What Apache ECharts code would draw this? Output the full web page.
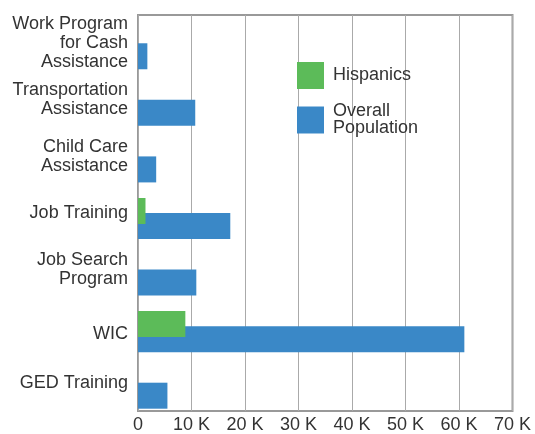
<!DOCTYPE html>
<html>
<head>
<meta charset="utf-8">
<script src="https://cdn.jsdelivr.net/npm/echarts@6/dist/echarts.min.js"></script>
<style>
  html, body { margin: 0; padding: 0; background: #fff; }
  #chart { width: 535px; height: 434px; }
</style>
</head>
<body>
<div id="chart"></div>
<script>
  // data
  var categories = ['Work Program\nfor Cash\nAssistance', 'Transportation\nAssistance', 'Child Care\nAssistance',
    'Job Training', 'Job Search\nProgram', 'WIC', 'GED Training'];
  var hispanics = [0, 0, 0, 1400, 0, 8850, 0];
  var overall = [1750, 10700, 3400, 17250, 10900, 61000, 5500];
  var xTicks = [0, 10000, 20000, 30000, 40000, 50000, 60000, 70000];

  var font = 'Liberation Sans, Arial, sans-serif';
  var chart = echarts.init(document.getElementById('chart'));

  chart.setOption({
    animation: false,
    grid: {
      left: 138, right: 22.5, top: 15, bottom: 19,
      show: true, borderColor: '#999', borderWidth: 2
    },
    legend: [{
      data: ['Hispanics'],
      left: 297, top: 62, padding: 0,
      itemWidth: 27, itemHeight: 27, icon: 'rect', itemStyle: { borderWidth: 0 },
      textStyle: { fontSize: 18, color: '#333', fontFamily: font, padding: [0, 0, 0, 4] }
    }, {
      data: ['Overall Population'],
      left: 297, top: 102.5, padding: 0,
      itemWidth: 27, itemHeight: 27, icon: 'rect', itemStyle: { borderWidth: 0 },
      formatter: function (n) { return 'Overall\nPopulation'; },
      textStyle: { fontSize: 18, lineHeight: 17, color: '#333', fontFamily: font, padding: [0, 0, 0, 4] }
    }],
    xAxis: {
      type: 'value',
      min: xTicks[0], max: xTicks[xTicks.length - 1], interval: xTicks[1] - xTicks[0],
      axisLine: { show: false },
      axisTick: { show: false },
      axisLabel: {
        margin: 5, fontSize: 18, color: '#333', fontFamily: font,
        formatter: function (v) { return v === 0 ? '0' : (v / 1000) + ' K'; }
      },
      splitLine: { show: true, lineStyle: { color: '#aaa', width: 1 } }
    },
    yAxis: {
      type: 'category',
      inverse: true,
      data: categories,
      axisLine: { show: false },
      axisTick: { show: false },
      splitLine: { show: false },
      axisLabel: {
        margin: 10, fontSize: 18, lineHeight: 19, color: '#333', fontFamily: font, align: 'right',
        // WIC sits lower than its band centre in the original
        formatter: function (v) { return v === 'WIC' ? '{low|' + v + '}' : v; },
        rich: { low: { fontSize: 18, lineHeight: 19, color: '#333', fontFamily: font, padding: [16, 0, 0, 0] } }
      }
    },
    series: [
      // empty spacer so the pair of bars sits low in each band
      { name: 'spacer', type: 'bar', data: [], barWidth: 19, barGap: '-42.3%', silent: true },
      { name: 'Hispanics', type: 'bar', data: hispanics, barWidth: 26, barGap: '-42.3%', z: 3,
        itemStyle: { color: '#5cbb59' } },
      { name: 'Overall Population', type: 'bar', data: overall, barWidth: 26, barGap: '-42.3%', z: 2,
        itemStyle: { color: '#3a88c7' } }
    ]
  });
</script>
</body>
</html>
